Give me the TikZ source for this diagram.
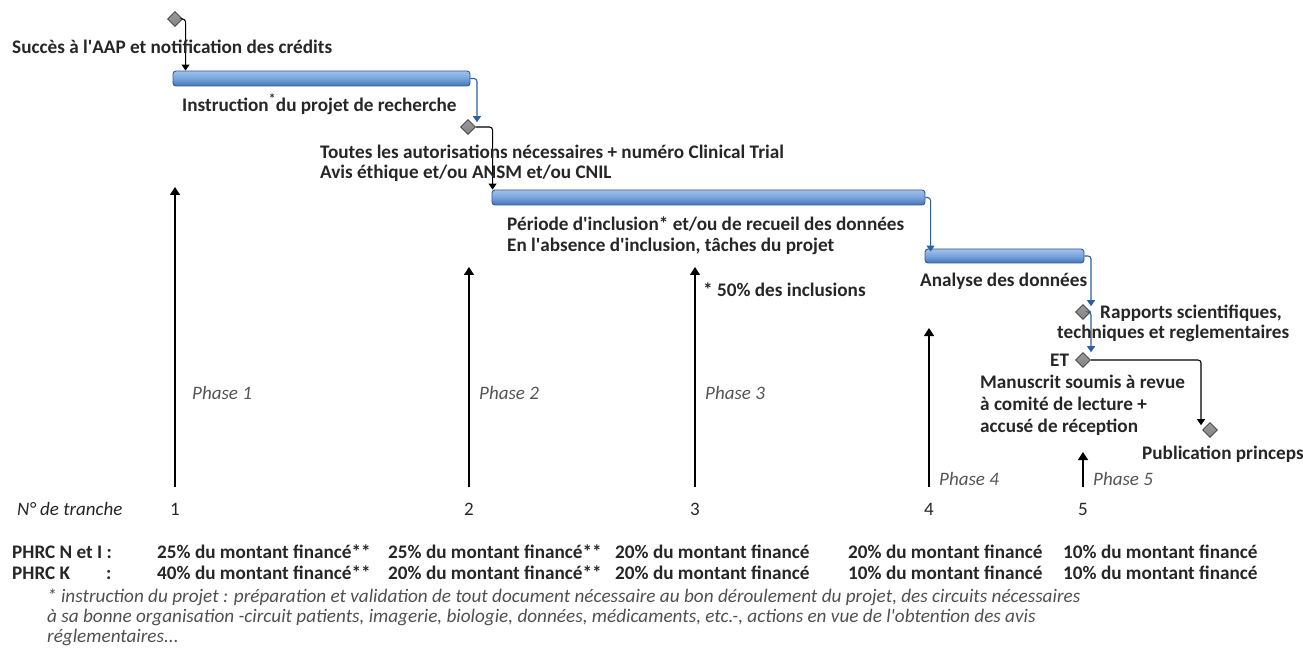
\documentclass[tikz,border=0pt]{standalone}
\usepackage{fontspec}
\setmainfont{Carlito}
\usetikzlibrary{shapes.geometric,arrows.meta,calc}
\definecolor{txt}{HTML}{262626}
\definecolor{phasec}{HTML}{555555}
\definecolor{notec}{HTML}{505050}
\definecolor{linkblue}{HTML}{2E5E9E}
\definecolor{barborder}{HTML}{30589A}
\definecolor{bartop}{HTML}{A4C2EA}
\definecolor{barmid}{HTML}{77A3DC}
\definecolor{barbot}{HTML}{4374B6}
\definecolor{msfill}{HTML}{6E6E6E}
\definecolor{msdraw}{HTML}{3A3A3A}
\newcommand{\apos}{\textquotesingle}
\begin{document}
\begin{tikzpicture}[x=1pt,y=-1pt,
  lbl/.style={anchor=mid west, inner sep=0pt, yshift=-4pt, font=\fontsize{19.2}{21}\selectfont\bfseries, text=txt},
  phaselbl/.style={anchor=mid west, inner sep=0pt, yshift=-3pt, font=\fontsize{19}{21}\selectfont\itshape, text=phasec},
  numlbl/.style={anchor=mid, inner sep=0pt, yshift=-3pt, font=\fontsize{19}{21}\selectfont, text=txt},
  notelbl/.style={anchor=mid west, inner sep=0pt, yshift=-3pt, font=\fontsize{19.2}{21}\selectfont\itshape, text=notec},
  bar/.style={draw=barborder, line width=0.9pt, rounded corners=3pt, top color=bartop, bottom color=barbot, middle color=barmid, minimum height=15pt, inner sep=0pt},
  milestone/.style={shape=diamond, aspect=1, draw=msdraw, line width=0.6pt, top color=msfill!70, bottom color=msfill!120!black, minimum width=15pt, minimum height=15pt, inner sep=0pt},
  blklink/.style={draw=black, line width=1.1pt, rounded corners=3pt, -{Triangle[width=8pt,length=6pt]}},
  bluelink/.style={draw=linkblue, line width=1.1pt, rounded corners=3pt, -{Triangle[width=8pt,length=6pt]}},
  vertarrow/.style={draw=black, line width=1.2pt, -{Triangle[width=10pt,length=8pt]}}
]
\useasboundingbox (0,0) rectangle (1303,652);

% bars
\node[bar, minimum width=297pt] (b1) at (321.5,78.5) {};
\node[bar, minimum width=433pt] (b2) at (708.5,197.5) {};
\node[bar, minimum width=159pt, minimum height=14pt] (b3) at (1004.5,256) {};

% milestones
\node[milestone] (d1) at (175,19) {};
\node[milestone] (d2) at (468,127) {};
\node[milestone] (d3) at (1083,312) {};
\node[milestone] (d4) at (1083,360) {};
\node[milestone] (d5) at (1210,430) {};

% links
\draw[blklink] (d1.east) -| ([xshift=13pt]b1.north west);
\draw[bluelink] (b1.east) -| ([xshift=9pt,yshift=-3pt]d2.north);
\draw[blklink] (d2.east) -| ([xshift=1pt]b2.north west);
\draw[bluelink] (b2.east) -| ([xshift=6pt,yshift=-3pt]b3.north west);
\draw[bluelink] (b3.east) -| ([xshift=8pt,yshift=-2pt]d3.north);
\draw[bluelink] (d3.east) -| ([xshift=8pt]d4.north);
\draw[blklink] (d4.east) -| ([xshift=-9pt,yshift=-3pt]d5.north);

% task / milestone texts
\node[lbl] (t1) at (12,47) {Succès à l\apos AAP et notification des crédits};
\node[lbl] (t2) at (182,105) {Instruction\textsuperscript{*}du projet de recherche};
\node[lbl] (t3a) at (320,152) {Toutes les autorisations nécessaires + numéro Clinical Trial};
\node[lbl] (t3b) at (320,172) {Avis éthique et/ou ANSM et/ou CNIL};
\node[lbl] (t4a) at (507,224) {Période d\apos inclusion* et/ou de recueil des données};
\node[lbl] (t4b) at (507,245) {En l\apos absence d\apos inclusion, tâches du projet};
\node[lbl] (t5) at (920,280) {Analyse des données};
\node[lbl] (t6) at (703,290) {* 50\% des inclusions};
\node[lbl] (t7a) at (1100,312) {Rapports scientifiques,};
\node[lbl] (t7b) at (1057,332) {techniques et reglementaires};
\node[lbl] (t8) at (1050,360) {ET};
\node[lbl] (t9a) at (980,382) {Manuscrit soumis à revue};
\node[lbl] (t9b) at (980,404) {à comité de lecture +};
\node[lbl] (t9c) at (980,426) {accusé de réception};
\node[lbl] (t10) at (1142,453) {Publication princeps};

% vertical tranche arrows
\coordinate (a1s) at (175,487); \coordinate (a1e) at (175,187);
\coordinate (a2s) at (469,487); \coordinate (a2e) at (469,267);
\coordinate (a3s) at (695,487); \coordinate (a3e) at (695,267);
\coordinate (a4s) at (929,487); \coordinate (a4e) at (929,328);
\coordinate (a5s) at (1083,487); \coordinate (a5e) at (1083,452);
\draw[vertarrow] (a1s) -- (a1e);
\draw[vertarrow] (a2s) -- (a2e);
\draw[vertarrow] (a3s) -- (a3e);
\draw[vertarrow] (a4s) -- (a4e);
\draw[vertarrow] (a5s) -- (a5e);

% phases
\node[phaselbl] (p1) at (192,394) {Phase 1};
\node[phaselbl] (p2) at (479,394) {Phase 2};
\node[phaselbl] (p3) at (705,394) {Phase 3};
\node[phaselbl] (p4) at (939,480) {Phase 4};
\node[phaselbl] (p5) at (1093,480) {Phase 5};

% tranche numbers
\node[phaselbl, text=txt] (nt) at (17,510) {N° de tranche};
\node[numlbl] (n1) at (175,510) {1};
\node[numlbl] (n2) at (469,510) {2};
\node[numlbl] (n3) at (695,510) {3};
\node[numlbl] (n4) at (929,510) {4};
\node[numlbl] (n5) at (1083,510) {5};

% funding rows
\node[lbl] (r1) at (12,552) {PHRC N et I :};
\node[lbl] (r1a) at (157,552) {25\% du montant financé**};
\node[lbl] (r1b) at (388,552) {25\% du montant financé**};
\node[lbl] (r1c) at (615,552) {20\% du montant financé};
\node[lbl] (r1d) at (848,552) {20\% du montant financé};
\node[lbl] (r1e) at (1063,552) {10\% du montant financé};
\node[lbl] (r2) at (12,573) {PHRC K};
\node[lbl] (r2c0) at (106,573) {:};
\node[lbl] (r2a) at (157,573) {40\% du montant financé**};
\node[lbl] (r2b) at (388,573) {20\% du montant financé**};
\node[lbl] (r2c) at (615,573) {20\% du montant financé};
\node[lbl] (r2d) at (848,573) {10\% du montant financé};
\node[lbl] (r2e) at (1063,573) {10\% du montant financé};

% footnote
\node[notelbl] (f1) at (47,597) {* instruction du projet : préparation et validation de tout document nécessaire au bon déroulement du projet, des circuits nécessaires};
\node[notelbl] (f2) at (47,617) {à sa bonne organisation -circuit patients, imagerie, biologie, données, médicaments, etc.-, actions en vue de l\apos obtention des avis};
\node[notelbl] (f3) at (47,637) {réglementaires...};
\end{tikzpicture}
\end{document}
